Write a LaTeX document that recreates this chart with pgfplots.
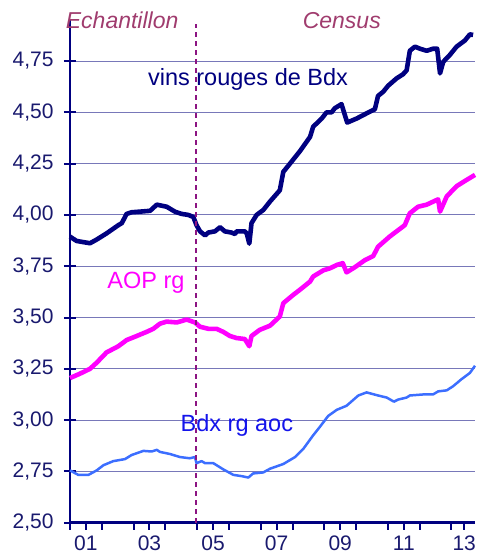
\documentclass[border=0pt]{standalone}
\usepackage{fontspec}
\setmainfont{Liberation Sans}
\usepackage{pgfplots}
\pgfplotsset{compat=1.18}
\usetikzlibrary{calc}

\definecolor{navy}{RGB}{0,0,128}
\definecolor{ticknavy}{RGB}{25,25,110}
\definecolor{gridc}{RGB}{120,120,185}
\definecolor{mag}{RGB}{255,0,255}
\definecolor{lblue}{RGB}{60,110,255}
\definecolor{pureblue}{RGB}{20,20,235}
\definecolor{mauve}{RGB}{160,60,110}
\definecolor{dashc}{RGB}{140,20,130}

\begin{document}
\begin{tikzpicture}
\begin{axis}[
    name=ax,
    scale only axis,
    clip=false,
    width=405pt, height=502.7pt,
    xmin=1, xmax=13.74,
    ymin=2.5, ymax=4.95,
    axis x line=bottom, axis y line=left,
    axis line style={-, navy, line width=2.6pt},
    xtick={1,...,13}, xticklabels={},
    extra x ticks={1.5,3.5,5.5,7.5,9.5,11.5,13.4},
    extra x tick labels={01,03,05,07,09,11,13},
    extra x tick style={major tick length=0pt, grid=none,
        tick label style={yshift=-10pt}},
    xtick align=outside,
    x tick style={/pgfplots/major tick length=7pt},
    ytick={2.5,2.75,...,4.76},
    ytick align=center,
    major tick length=12pt,
    tick style={navy, line width=2pt},
    y tick label style={xshift=-7pt},
    ymajorgrids,
    grid style={gridc, line width=0.9pt},
    tick label style={font=\fontsize{21}{21}\selectfont, text=ticknavy},
    /pgf/number format/.cd, use comma, fixed, fixed zerofill, precision=2, assume math mode=true,
]
\addplot[navy, line width=4.6pt, line join=round] coordinates {
(1.00,3.894) (1.21,3.873) (1.63,3.862) (1.84,3.88) (2.15,3.91) (2.52,3.95)
(2.63,3.96) (2.78,4.005) (2.94,4.013) (3.20,4.016) (3.52,4.02) (3.73,4.05)
(4.04,4.04) (4.30,4.016) (4.51,4.005) (4.72,4.00) (4.88,3.99) (4.98,3.95)
(5.09,3.92) (5.25,3.90) (5.35,3.914) (5.56,3.92) (5.72,3.94) (5.87,3.92)
(6.08,3.914) (6.19,3.907) (6.24,3.92) (6.50,3.92) (6.56,3.91) (6.64,3.86)
(6.71,3.96) (6.87,4.00) (7.08,4.024) (7.29,4.065) (7.60,4.12) (7.71,4.21)
(7.92,4.25) (8.23,4.31) (8.55,4.38) (8.65,4.43) (8.92,4.47) (9.07,4.50)
(9.23,4.50) (9.33,4.52) (9.54,4.54) (9.72,4.45) (10.02,4.47) (10.33,4.495)
(10.59,4.515) (10.69,4.58) (10.85,4.60) (11.01,4.63) (11.27,4.665) (11.48,4.686)
(11.59,4.705) (11.69,4.80) (11.85,4.82) (12.01,4.81) (12.22,4.80) (12.42,4.81)
(12.55,4.81) (12.64,4.69) (12.74,4.746) (12.95,4.78) (13.16,4.82) (13.42,4.85)
(13.58,4.88) (13.68,4.877)
};
\addplot[mag, line width=4.6pt, line join=round] coordinates {
(1.00,3.205) (1.31,3.226) (1.63,3.25) (1.84,3.28) (2.15,3.33) (2.52,3.36)
(2.78,3.39) (3.10,3.41) (3.41,3.43) (3.62,3.445) (3.83,3.47) (4.04,3.48)
(4.36,3.476) (4.67,3.49) (4.93,3.476) (5.09,3.455) (5.35,3.445) (5.61,3.445)
(5.82,3.43) (6.03,3.41) (6.24,3.40) (6.50,3.395) (6.64,3.36) (6.71,3.41)
(6.97,3.44) (7.29,3.46) (7.60,3.505) (7.71,3.57) (8.02,3.61) (8.23,3.635)
(8.55,3.675) (8.65,3.70) (8.97,3.73) (9.18,3.74) (9.39,3.756) (9.58,3.765)
(9.70,3.72) (9.96,3.745) (10.28,3.78) (10.54,3.80) (10.69,3.845) (11.06,3.895)
(11.53,3.95) (11.69,4.008) (11.95,4.04) (12.22,4.05) (12.58,4.076) (12.64,4.016)
(12.85,4.09) (13.16,4.14) (13.47,4.17) (13.74,4.195)
};
\addplot[lblue, line width=2.5pt, line join=round] coordinates {
(1.00,2.755) (1.26,2.733) (1.58,2.733) (1.84,2.755) (2.05,2.78) (2.36,2.80)
(2.73,2.81) (2.94,2.83) (3.31,2.85) (3.57,2.847) (3.73,2.855) (3.83,2.845)
(4.14,2.835) (4.46,2.82) (4.77,2.814) (4.93,2.82) (4.98,2.79) (5.14,2.80)
(5.25,2.79) (5.51,2.79) (5.82,2.76) (6.14,2.733) (6.40,2.727) (6.61,2.72)
(6.76,2.74) (7.08,2.745) (7.29,2.763) (7.71,2.786) (8.08,2.82) (8.34,2.86)
(8.65,2.926) (8.86,2.967) (9.12,3.02) (9.39,3.05) (9.70,3.07) (10.07,3.12)
(10.33,3.135) (10.69,3.12) (10.96,3.11) (11.19,3.09) (11.32,3.10) (11.59,3.11)
(11.69,3.12) (12.11,3.125) (12.42,3.125) (12.58,3.14) (12.85,3.145) (13.05,3.165)
(13.32,3.20) (13.58,3.23) (13.74,3.265)
};
\draw[dashc, line width=2pt, dash pattern=on 5pt off 4pt] (axis cs:4.96,2.5) -- (axis cs:4.96,4.93);
\node[text=navy, font=\fontsize{23.5}{23.5}\selectfont] at (axis cs:6.60,4.662) {vins rouges de Bdx};
\node[text=mag, font=\fontsize{23.5}{23.5}\selectfont] at (axis cs:3.39,3.669) {AOP rg};
\node[text=pureblue, font=\fontsize{23.5}{23.5}\selectfont] at (axis cs:6.25,2.976) {Bdx rg aoc};
\node[text=mauve, font=\itshape\fontsize{23}{23}\selectfont, anchor=base] at (axis cs:2.64,4.91) {Echantillon};
\node[text=mauve, font=\itshape\fontsize{23}{23}\selectfont, anchor=base] at (axis cs:9.55,4.91) {Census};
\end{axis}
\pgfresetboundingbox
\path ($(ax.south west)+(-70pt,-34.3pt)$) rectangle ($(ax.north east)+(4pt,20pt)$);
\end{tikzpicture}
\end{document}
